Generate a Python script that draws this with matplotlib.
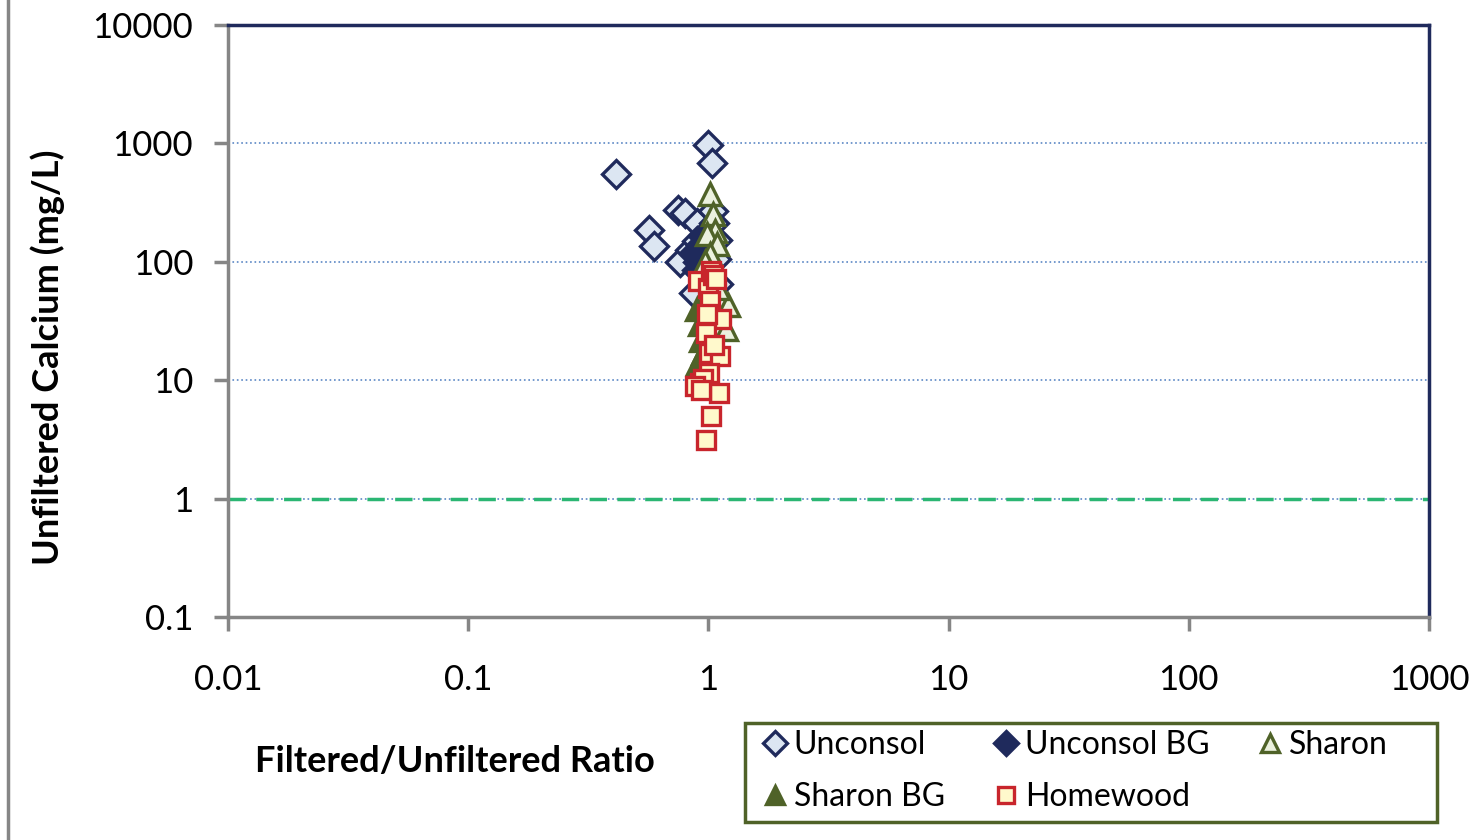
import matplotlib.pyplot as plt
from matplotlib.lines import Line2D
from matplotlib.patches import Rectangle

plt.rcParams['font.family'] = ['Lato', 'DejaVu Sans']

# dane
unconsol_x = [1.0, 1.04, 0.414, 0.75, 0.80, 0.568, 0.596, 0.90, 1.05, 1.06, 1.09, 0.76, 0.84, 0.90, 1.10, 0.87, 1.08]
unconsol_y = [970, 690, 556, 276, 260, 187, 137, 214, 270, 214, 152, 100, 125, 150, 65, 54, 105]

unconsol_bg_x = [0.88, 0.91, 0.93, 0.90, 0.95]
unconsol_bg_y = [120, 100, 140, 85, 165]

sharon_x = [1.02, 1.05, 1.07, 0.99, 1.09, 1.02, 1.21, 1.19, 1.10, 0.97]
sharon_y = [377, 255, 183, 172, 142, 117, 43, 27, 60, 100]

sharon_bg_x = [0.90, 0.92, 0.93, 0.95, 0.91]
sharon_bg_y = [40, 30, 22, 17, 14]

homewood_x = [0.91, 1.0, 1.03, 1.05, 1.08, 1.02, 1.13, 0.99, 0.98, 1.01, 1.12, 1.01, 0.92, 0.95,
              1.11, 1.03, 0.98, 0.88, 0.93, 1.06]
homewood_y = [69, 60, 84, 78, 72, 47, 33, 36, 25, 17, 16, 11.6, 9.5, 10.2, 7.8, 5.0, 3.1, 9.0, 8.2, 20]

fig = plt.figure(figsize=(14.82, 8.4), dpi=100)
ax = fig.add_axes([0.1538, 0.2655, 0.8104, 0.7047])

ax.set_xscale('log')
ax.set_yscale('log')
ax.set_xlim(0.01, 1000)
ax.set_ylim(0.1, 10000)

ax.grid(True, axis='y', which='major', linestyle=':', color='#5b87c5', linewidth=1.2)
ax.axhline(1, color='#2bb673', linestyle=(0, (5, 3)), linewidth=2.5, zorder=2)

h1, = ax.plot(unconsol_x, unconsol_y, 'D', ms=14, mfc='#dce6f2', mec='#1f2a5c', mew=2.4,
              label='Unconsol', zorder=3)
h2, = ax.plot(unconsol_bg_x, unconsol_bg_y, 'D', ms=14, mfc='#1f2a5c', mec='#1f2a5c', mew=2.4,
              label='Unconsol BG', zorder=3)
h3, = ax.plot(sharon_x, sharon_y, '^', ms=16, mfc='#ebf1de', mec='#4f6228', mew=2.4,
              label='Sharon', zorder=4)
h4, = ax.plot(sharon_bg_x, sharon_bg_y, '^', ms=16, mfc='#4f6228', mec='#4f6228', mew=2.4,
              label='Sharon BG', zorder=4)
h5, = ax.plot(homewood_x, homewood_y, 's', ms=13.5, mfc='#fff9cc', mec='#c8252c', mew=2.4,
              label='Homewood', zorder=5)

for s in ['left', 'bottom']:
    ax.spines[s].set_color('#868686')
    ax.spines[s].set_linewidth(2.5)
for s in ['top', 'right']:
    ax.spines[s].set_color('#1f2a5c')
    ax.spines[s].set_linewidth(2.5)

ax.set_xticks([0.01, 0.1, 1, 10, 100, 1000])
ax.set_xticklabels(['0.01', '0.1', '1', '10', '100', '1000'])
ax.set_yticks([0.1, 1, 10, 100, 1000, 10000])
ax.set_yticklabels(['0.1', '1', '10', '100', '1000', '10000'])
ax.minorticks_off()
ax.tick_params(axis='both', which='major', direction='out', length=10, width=2.5,
               color='#868686', labelsize=25)
ax.tick_params(axis='x', pad=24)
ax.tick_params(axis='y', pad=15)

fig.text(48 / 1482, 1 - 357 / 840, 'Unfiltered Calcium (mg/L)', fontsize=26,
         fontweight='bold', rotation=90, ha='center', va='center')
fig.text(455 / 1482, 1 - 762 / 840, 'Filtered/Unfiltered Ratio', fontsize=26,
         fontweight='bold', ha='center', va='center')

# kolejnosc tak, zeby wiersze wyszly jak w oryginale
leg = fig.legend([h1, h4, h2, h5, h3], ['Unconsol', 'Sharon BG', 'Unconsol BG', 'Homewood', 'Sharon'],
                 loc='upper left', bbox_to_anchor=(765 / 1482, 1 - 730 / 840),
                 ncol=3, fontsize=23, frameon=False,
                 handlelength=0.6, handletextpad=0.3, borderaxespad=0, borderpad=0,
                 columnspacing=1.6, labelspacing=0.7, markerscale=0.85)
fig.add_artist(Rectangle((745 / 1482, 1 - 822 / 840), 692 / 1482, 99 / 840,
                         transform=fig.transFigure, fill=False, edgecolor='#4f6228', linewidth=2.5))

fig.add_artist(Line2D([8 / 1482, 8 / 1482], [0, 1], transform=fig.transFigure,
                      color='#868686', linewidth=2.5))

plt.savefig('out.png', dpi=100)
